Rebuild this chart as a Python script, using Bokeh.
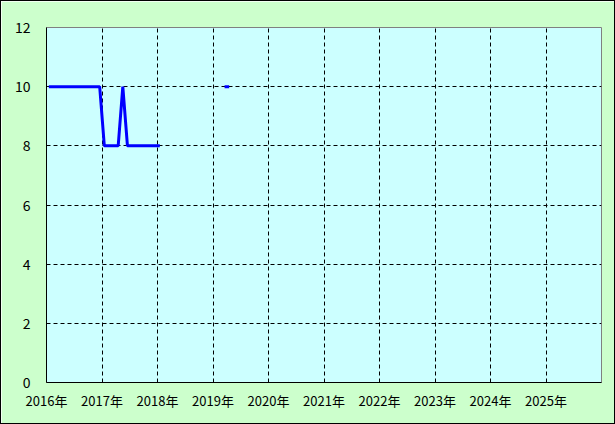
import numpy as np
import pandas as pd
from bokeh.plotting import figure
from bokeh.models import Range1d, FixedTicker, ColumnDataSource
from bokeh.embed import file_html
from bokeh.resources import INLINE

# ---- data ----
months = [str(p) for p in pd.period_range("2016-01", "2019-04", freq="M")]
values = [10, 10, 10, 10, 10, 10, 10, 10, 10, 10, 10, 10,
          8, 8, 8, 8, 10, 8, 8, 8, 8, 8, 8, 8,
          8, None, None, None, None, None, None, None,
          None, None, None, None, None, None, 10, 10]
year_ticks = [2016, 2017, 2018, 2019, 2020, 2021, 2022, 2023, 2024, 2025]
year_labels = ["2016年", "2017年", "2018年", "2019年", "2020年",
               "2021年", "2022年", "2023年", "2024年", "2025年"]
y_ticks = [0, 2, 4, 6, 8, 10, 12]

# mid-month positions in decimal years
xs = [int(m[:4]) + (int(m[5:7]) - 0.5) / 12 for m in months]
ys = [np.nan if v is None else v for v in values]
src = ColumnDataSource(dict(x=xs, y=ys))

p = figure(width=615, height=424, output_backend="svg", toolbar_location=None,
           x_range=Range1d(2016, 2026), y_range=Range1d(0, 12),
           min_border_left=45, min_border_right=15, min_border_top=26,
           min_border_bottom=43)
p.background_fill_color = "#ccffff"
p.border_fill_color = "#ccffcc"
p.outline_line_color = "#808080"
p.outline_line_width = 1
p.styles = {"border": "1px solid black", "box-sizing": "border-box"}

p.xaxis.ticker = FixedTicker(ticks=year_ticks)
p.xaxis.major_label_overrides = {t: l for t, l in zip(year_ticks, year_labels)}
p.yaxis.ticker = FixedTicker(ticks=y_ticks)

for ax in (p.xaxis, p.yaxis):
    ax.axis_line_color = "black"
    ax.axis_line_width = 1
    ax.major_tick_line_color = None
    ax.minor_tick_line_color = None
    ax.major_label_text_color = "black"
    ax.major_label_text_font = "Noto Sans CJK JP"
p.xaxis.major_label_text_font_size = "13px"
p.yaxis.major_label_text_font_size = "14px"
p.xaxis.major_label_standoff = 2
p.yaxis.major_label_standoff = 10

for g in (p.xgrid, p.ygrid):
    g.grid_line_color = "black"
    g.grid_line_dash = "4 3"
    g.grid_line_width = 1
    g.grid_line_alpha = 1.0

p.line("x", "y", source=src, line_color="#0000ff", line_width=3)

open("out.html", "w").write(file_html(p, INLINE))
